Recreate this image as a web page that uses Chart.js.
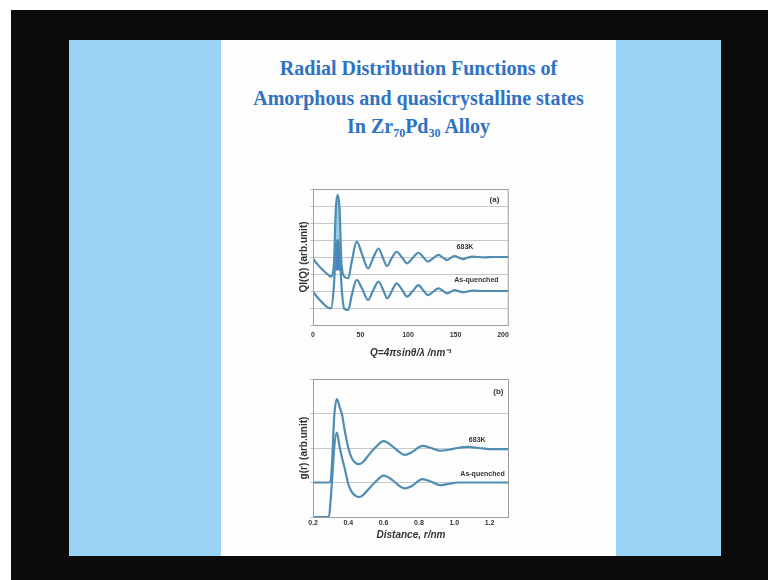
<!DOCTYPE html>
<html>
<head>
<meta charset="utf-8">
<script src="https://cdn.jsdelivr.net/npm/chart.js@4.4.1/dist/chart.umd.min.js"></script>
<style>
  html, body { margin: 0; padding: 0; }
  body { width: 768px; height: 580px; position: relative; background: #fff; overflow: hidden; }
  #screen { position: absolute; left: 11px; top: 10px; width: 757px; height: 570px; background: #0b0b0b; }
  #slide { position: absolute; left: 69px; top: 40px; width: 652px; height: 516px; background: #9ad3f6; }
  #page { position: absolute; left: 221px; top: 40px; width: 395px; height: 516px; background: #fdfdfd; }
  .title { position: absolute; left: 221px; width: 395px; text-align: center; font-family: "Liberation Serif", serif;
           font-weight: bold; font-size: 20px; color: #2f72c4; line-height: 24px; }
  .title sub { font-size: 12px; vertical-align: -4px; line-height: 0; }
  canvas { position: absolute; }
</style>
</head>
<body>
<div id="screen"></div>
<div id="slide"></div>
<div id="page"></div>
<div class="title" style="top:56px">Radial Distribution Functions of</div>
<div class="title" style="top:86px">Amorphous and quasicrystalline states</div>
<div class="title" style="top:114px">In Zr<sub>70</sub>Pd<sub>30</sub> Alloy</div>
<canvas id="chartA" width="225" height="180" style="left:290px;top:183px;width:225px;height:180px"></canvas>
<canvas id="chartB" width="225" height="180" style="left:290px;top:373px;width:225px;height:180px"></canvas>
<script>
// (a) Q I(Q)
const qValues = [0, 5, 10, 15, 19, 22, 24, 26, 28, 30, 33, 37, 41, 46, 52, 58, 63, 69, 74, 78,
  83, 88, 94, 99, 105, 111, 116, 121, 127, 132, 137, 141, 145, 149, 154, 158, 163, 168, 180, 190, 206];
const qi683K = [3.9, 3.55, 3.25, 3.0, 2.85, 3.6, 6.8, 7.65, 6.8, 3.6, 2.85, 2.75, 3.8, 4.9, 4.1, 3.33, 3.9, 4.5, 3.9, 3.47,
  3.95, 4.31, 3.95, 3.63, 3.95, 4.25, 4.0, 3.73, 3.95, 4.12, 3.95, 3.82, 3.95, 4.06, 3.95, 3.88, 3.97, 4.02, 3.98, 4.0, 4.0];
const qiQuenched = [1.96, 1.6, 1.3, 1.05, 0.98, 2.3, 4.5, 5.0, 4.5, 2.3, 0.95, 0.88, 1.8, 2.65, 2.1, 1.47, 2.0, 2.55, 2.05, 1.57,
  2.0, 2.45, 2.05, 1.67, 2.0, 2.35, 2.05, 1.76, 1.98, 2.16, 2.0, 1.86, 1.95, 2.05, 1.98, 1.93, 1.98, 2.02, 2.0, 2.0, 2.0];
const qTicks = [0, 50, 100, 150, 200];
const qPeak = [22, 30];

// (b) g(r)
const rValues = [0.2, 0.25, 0.29, 0.30, 0.31, 0.32, 0.335, 0.35, 0.365, 0.38, 0.40, 0.42, 0.44, 0.46, 0.48, 0.51,
  0.55, 0.60, 0.65, 0.69, 0.72, 0.76, 0.82, 0.87, 0.92, 0.97, 1.02, 1.08, 1.14, 1.2, 1.25, 1.31];
const g683K = [1.0, 1.0, 1.0, 1.05, 1.8, 2.9, 3.42, 3.2, 2.95, 2.5, 2.0, 1.7, 1.57, 1.53, 1.58, 1.76,
  2.0, 2.2, 2.05, 1.88, 1.8, 1.88, 2.06, 2.0, 1.92, 1.95, 2.0, 2.03, 2.0, 1.97, 1.97, 1.97];
const gQuenched = [0, 0, 0, 0.5, 1.2, 2.0, 2.45, 2.05, 1.7, 1.4, 0.95, 0.72, 0.62, 0.58, 0.62, 0.78,
  1.0, 1.2, 1.07, 0.9, 0.83, 0.9, 1.1, 1.02, 0.92, 0.96, 1.0, 1.0, 1.0, 1.0, 1.0, 1.0];
const rTicks = [0.2, 0.4, 0.6, 0.8, 1.0, 1.2];

const lineColor = '#4f8db2';
const gridColor = '#c4c8cc';

// text inside the plot, placed in data units
const curveLabels = {
  id: 'curveLabels',
  afterDatasetsDraw(chart, args, opts) {
    const ctx = chart.ctx;
    const { x, y } = chart.scales;
    ctx.save();
    ctx.fillStyle = '#333';
    ctx.textAlign = 'center';
    ctx.textBaseline = 'middle';
    opts.items.forEach(item => {
      ctx.font = item.font;
      ctx.fillText(item.text, x.getPixelForValue(item.x), y.getPixelForValue(item.y));
    });
    ctx.restore();
  }
};

const frame = {
  id: 'frame',
  afterDraw(chart) {
    const a = chart.chartArea;
    const ctx = chart.ctx;
    ctx.save();
    ctx.strokeStyle = '#9a9ea2';
    ctx.lineWidth = 1;
    ctx.strokeRect(a.left + 0.5, a.top + 0.5, a.right - a.left - 1, a.bottom - a.top);
    ctx.restore();
  }
};

function toPoints(xs, ys) {
  return xs.map((v, i) => ({ x: v, y: ys[i] }))
}

// shading only under the sharp first peak (range given in x units)
function peakFill(range, color) {
  return (ctx) => (range && ctx.p0.parsed.x >= range[0] && ctx.p1.parsed.x <= range[1]) ? color : 'rgba(0,0,0,0)'
}

function createGraph(element, xs, upper, lower, xOpts, yMax, xTitle, yTitle, labels, axisHeight, titlePad, peak) {
  new Chart(element, {
    type: 'line',
    data: {
      datasets: [
        {
          data: toPoints(xs, upper), borderColor: lineColor, borderWidth: 2.2, pointRadius: 0, cubicInterpolationMode: 'monotone',
          fill: peak ? '+1' : false, segment: { backgroundColor: peakFill(peak, 'rgba(120,185,225,0.75)') }
        },
        {
          data: toPoints(xs, lower), borderColor: lineColor, borderWidth: 2.2, pointRadius: 0, cubicInterpolationMode: 'monotone',
          fill: peak ? { value: 3.2 } : false, segment: { backgroundColor: peakFill(peak, 'rgba(40,110,185,0.85)') }
        }
      ]
    },
    options: {
      responsive: false,
      animation: false,
      layout: { padding: { top: 6, right: 6, left: 0, bottom: 0 } },
      plugins: {
        legend: { display: false },
        tooltip: { enabled: false },
        filler: { drawTime: 'beforeDatasetsDraw' },
        curveLabels: { items: labels }
      },
      scales: {
        x: {
          type: 'linear',
          min: xOpts.min,
          max: xOpts.max,
          afterBuildTicks: (scale) => { scale.ticks = xOpts.ticks.map(v => ({ value: v })) },
          afterFit: (scale) => { scale.height = axisHeight },
          grid: { display: false, drawTicks: false },
          border: { display: false },
          ticks: {
            color: '#333',
            font: { family: 'Arial', size: 7, weight: 'bold' },
            padding: xOpts.tickPad,
            maxRotation: 0,
            callback: xOpts.format
          },
          title: {
            display: true,
            text: xTitle,
            color: '#333',
            font: { family: 'Arial', size: 10, weight: 'bold', style: 'italic' },
            padding: { top: 0, bottom: titlePad }
          }
        },
        y: {
          min: 0,
          max: yMax,
          afterFit: (scale) => { scale.width = 23 },
          grid: { color: gridColor, drawTicks: true, tickLength: 3 },
          border: { display: false },
          ticks: { stepSize: 1, display: false },
          title: {
            display: true,
            text: yTitle,
            color: '#333',
            font: { family: 'Arial', size: 10, weight: 'bold' },
            padding: { top: 8, bottom: 0 }
          }
        }
      }
    },
    plugins: [curveLabels, frame]
  })
}

createGraph(document.getElementById('chartA'), qValues, qi683K, qiQuenched,
  { min: 0, max: 206, ticks: qTicks, format: v => String(v), tickPad: 6 }, 8,
  'Q=4\u03c0sin\u03b8/\u03bb /nm\u207b\u00b9', 'QI(Q) (arb.unit)',
  [
    { text: '683K', x: 160, y: 4.6, font: 'bold 7px Arial' },
    { text: 'As-quenched', x: 172, y: 2.65, font: 'bold 7px Arial' },
    { text: '(a)', x: 191, y: 7.35, font: 'bold 8px Arial' }
  ], 38, 4, qPeak);

createGraph(document.getElementById('chartB'), rValues, g683K, gQuenched,
  { min: 0.2, max: 1.31, ticks: rTicks, format: v => Number(v).toFixed(1), tickPad: 2 }, 4,
  'Distance, r/nm', 'g(r) (arb.unit)',
  [
    { text: '683K', x: 1.13, y: 2.23, font: 'bold 7px Arial' },
    { text: 'As-quenched', x: 1.16, y: 1.25, font: 'bold 7px Arial' },
    { text: '(b)', x: 1.25, y: 3.62, font: 'bold 8px Arial' }
  ], 36, 12, null);
</script>
</body>
</html>
